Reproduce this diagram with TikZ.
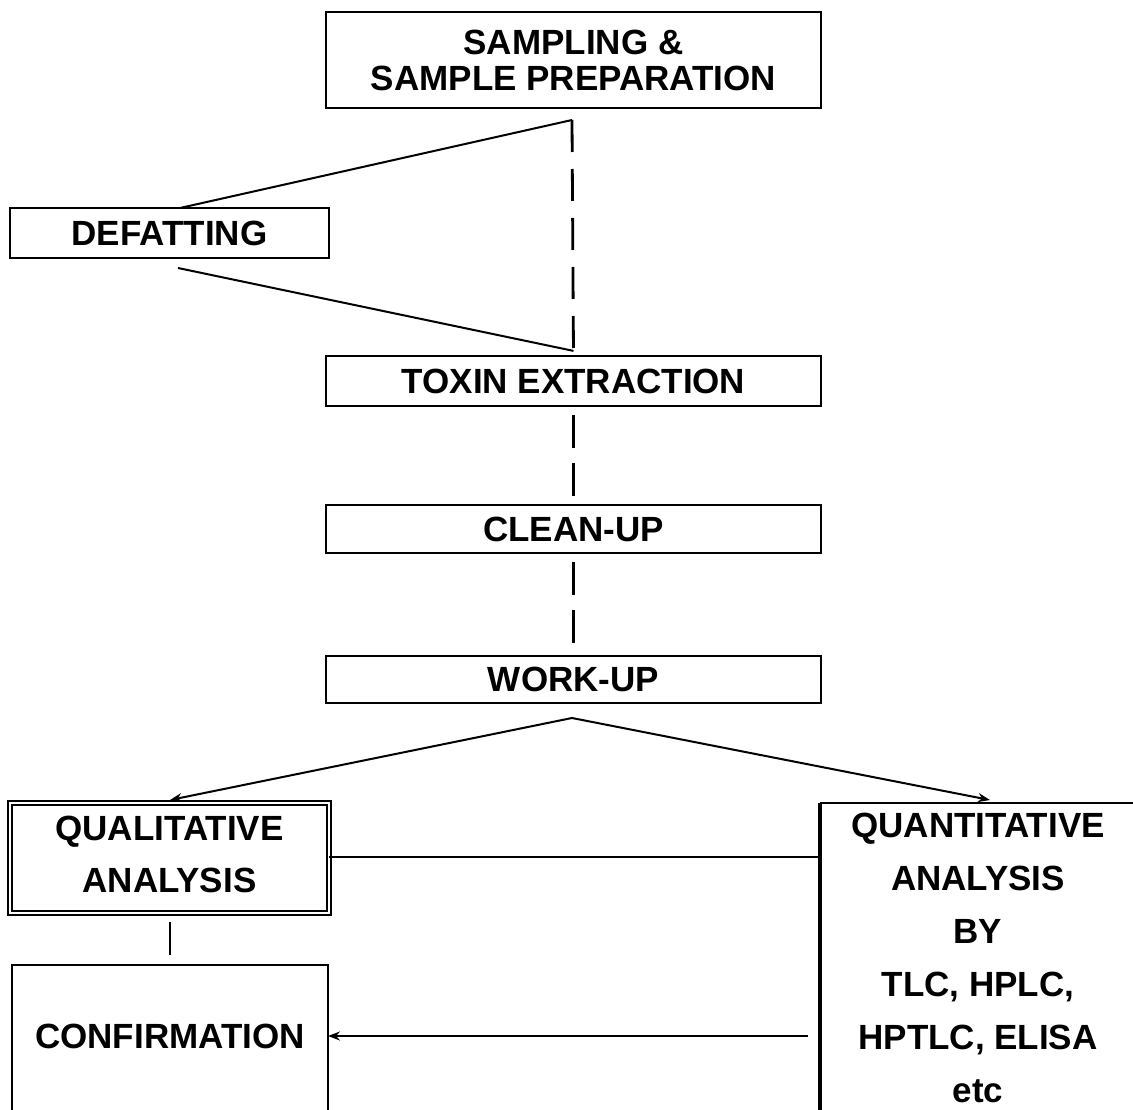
\documentclass[tikz,border=0pt]{standalone}
\usepackage{fontspec}
\setmainfont{Liberation Sans}
\usetikzlibrary{arrows.meta}
\begin{document}
\begin{tikzpicture}[x=1pt,y=-1pt,
  stepbox/.style={draw, line width=2.2pt, inner sep=0pt, align=center,
    font=\bfseries\fontsize{35}{36}\selectfont},
  plain/.style={inner sep=0pt, align=center},
  conn/.style={line width=2pt},
  dashconn/.style={line width=2.8pt, dash pattern=on 33pt off 15pt},
  arr/.style={line width=2pt, -{Stealth[length=12pt,width=9pt]}}
]
\useasboundingbox (0,0) rectangle (1133,1110);
\clip (0,0) rectangle (1133,1110);

% nodes
\node[stepbox, minimum width=495pt, minimum height=96pt] (top) at (573.5,60) {SAMPLING \&\\SAMPLE PREPARATION};
\node[stepbox, minimum width=319pt, minimum height=50pt] (def) at (169.5,233) {DEFATTING};
\node[stepbox, minimum width=495pt, minimum height=50pt] (tox) at (573.5,381) {TOXIN EXTRACTION};
\node[stepbox, minimum width=495pt, minimum height=48pt] (clean) at (573.5,529) {CLEAN-UP};
\node[stepbox, minimum width=495pt, minimum height=47pt] (work) at (573.5,679.5) {WORK-UP};
\node[stepbox, draw=none, minimum width=319pt, minimum height=110pt,
      font=\bfseries\fontsize{35}{52}\selectfont] (qual) at (169.5,854) {QUALITATIVE\\ANALYSIS};
\draw[line width=1.5pt, double, double distance=2.6pt]
  (10,803) rectangle (329,913);
\node[plain, font=\bfseries\fontsize{35}{36}\selectfont] (conf) at (170,1036) {CONFIRMATION};
\node[plain, font=\bfseries\fontsize{35}{53}\selectfont] (quant) at (978,958) {QUANTITATIVE\\ANALYSIS\\BY\\TLC, HPLC,\\HPTLC, ELISA\\etc};

% open boxes
\coordinate (cTL) at (12,965);
\coordinate (cTR) at (328,965);
\draw[line width=2.2pt] (12,1120) -- (cTL) -- (cTR) -- (328,1120);
\coordinate (qTL) at (820,803);
\draw[line width=2.6pt] (1140,803) -- (qTL);
\draw[line width=3.5pt] (qTL) -- (820,1120);

% connector points
\coordinate (apex1) at (572,120);
\coordinate (defT) at (180,208);
\coordinate (defB) at (178,268);
\coordinate (apex2) at (572,718);
\coordinate (qualA) at (170,800);
\coordinate (quantA) at (990,800);
\coordinate (quantL) at (820,857);
\coordinate (vs1) at (170,922);
\coordinate (vs2) at (170,955);
\coordinate (confS) at (808,1036);

% connectors
\draw[conn] (apex1) -- (defT);
\draw[conn] (defB) -- ([yshift=4pt]tox.north);
\draw[dashconn, dash pattern=on 32pt off 17pt] (apex1) -- (tox.north);
\draw[dashconn, dash phase=-8pt] (tox.south) -- (clean.north);
\draw[dashconn, dash phase=-8pt] (clean.south) -- (work.north);
\draw[arr] (apex2) -- (qualA);
\draw[arr] (apex2) -- (quantA);
\draw[conn] (329,857) -- (quantL);
\draw[line width=2.8pt] (vs1) -- (vs2);
\draw[arr] (confS) -- (cTR |- conf);
\end{tikzpicture}
\end{document}
